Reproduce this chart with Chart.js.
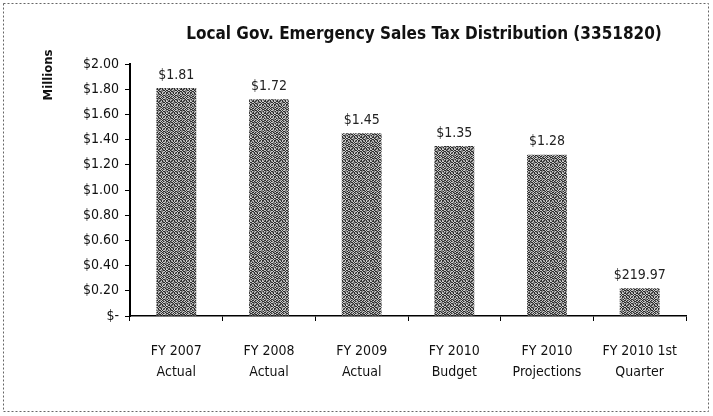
<!DOCTYPE html>
<html>
<head>
<meta charset="utf-8">
<title>Local Gov. Emergency Sales Tax Distribution</title>
<script src="https://cdn.jsdelivr.net/npm/chart.js@4"></script>
<style>
  html, body { margin: 0; padding: 0; background: #fff; }
  #wrap { width: 713px; height: 416px; }
</style>
</head>
<body>
<div id="wrap"><canvas id="chart" width="713" height="416"></canvas></div>
<script>
// data (millions of dollars)
const categories = [
  ["FY 2007", "Actual"],
  ["FY 2008", "Actual"],
  ["FY 2009", "Actual"],
  ["FY 2010", "Budget"],
  ["FY 2010", "Projections"],
  ["FY 2010 1st", "Quarter"]
];
const values = [1.81, 1.72, 1.45, 1.35, 1.28, 0.22];
const valueLabels = ["$1.81", "$1.72", "$1.45", "$1.35", "$1.28", "$219.97"];
const chartTitle = "Local Gov. Emergency Sales Tax Distribution (3351820)";
const axisTitle = "Millions";

const FONT = "'DejaVu Sans Condensed', sans-serif";

// grainy grey fill like the scanned bars (fixed hash, not data)
function makePattern() {
  const c = document.createElement("canvas");
  c.width = 12; c.height = 12;
  const g = c.getContext("2d");
  for (let y = 0; y < 12; y++) {
    for (let x = 0; x < 12; x++) {
      const h = ((x * 73856093) ^ (y * 19349663)) & 255;
      const v = h < 100 ? 45 : (h < 175 ? 125 : 205);
      g.fillStyle = `rgb(${v},${v},${v})`;
      g.fillRect(x, y, 1, 1);
    }
  }
  return g.createPattern(c, "repeat");
}

const decor = {
  id: "decor",
  beforeDraw(chart) {
    const ctx = chart.ctx;
    ctx.save();
    ctx.strokeStyle = "#666";
    ctx.lineWidth = 1;
    ctx.setLineDash([2, 2]);
    ctx.strokeRect(3.5, 3.5, 705, 408);
    ctx.restore();
  },
  afterDraw(chart) {
    const ctx = chart.ctx;
    ctx.save();
    ctx.fillStyle = "#111";
    ctx.font = "bold 17px " + FONT;
    ctx.textAlign = "center";
    ctx.textBaseline = "middle";
    ctx.fillText(chartTitle, 424, 35);

    ctx.translate(49, 75);
    ctx.rotate(-Math.PI / 2);
    ctx.font = "bold 13px " + FONT;
    ctx.fillText(axisTitle, 0, 0);
    ctx.restore();

    // value labels above bars
    const meta = chart.getDatasetMeta(0);
    ctx.save();
    ctx.fillStyle = "#222";
    ctx.font = "14px " + FONT;
    ctx.textAlign = "center";
    ctx.textBaseline = "bottom";
    meta.data.forEach((bar, i) => {
      ctx.fillText(valueLabels[i], bar.x, bar.y - 6);
    });
    ctx.restore();
  }
};

new Chart(document.getElementById("chart"), {
  type: "bar",
  data: {
    labels: categories,
    datasets: [{
      data: values,
      backgroundColor: makePattern(),
      borderWidth: 0,
      barPercentage: 1,
      categoryPercentage: 0.43
    }]
  },
  options: {
    responsive: false,
    animation: false,
    devicePixelRatio: 1,
    layout: { padding: { left: 0, right: 27, top: 64, bottom: 0 } },
    plugins: { legend: { display: false }, title: { display: false }, tooltip: { enabled: false } },
    scales: {
      x: {
        grid: { display: true, drawOnChartArea: false, drawTicks: true, tickLength: 5, color: "#000", offset: true },
        border: { display: true, color: "#000", width: 1.5 },
        ticks: { color: "#111", font: { family: FONT, size: 14, lineHeight: 1.5 }, maxRotation: 0, autoSkip: false, padding: 20 },
        afterFit(s) { s.height = 100; }
      },
      y: {
        min: 0, max: 2,
        grid: { display: true, drawOnChartArea: false, drawTicks: true, tickLength: 5, color: "#000" },
        border: { display: true, color: "#000", width: 2 },
        ticks: {
          stepSize: 0.2,
          color: "#111",
          font: { family: FONT, size: 14 },
          padding: 6,
          callback: v => v === 0 ? "$-" : "$" + v.toFixed(2)
        },
        afterFit(s) { s.width = 130; }
      }
    }
  },
  plugins: [decor]
});
</script>
</body>
</html>
